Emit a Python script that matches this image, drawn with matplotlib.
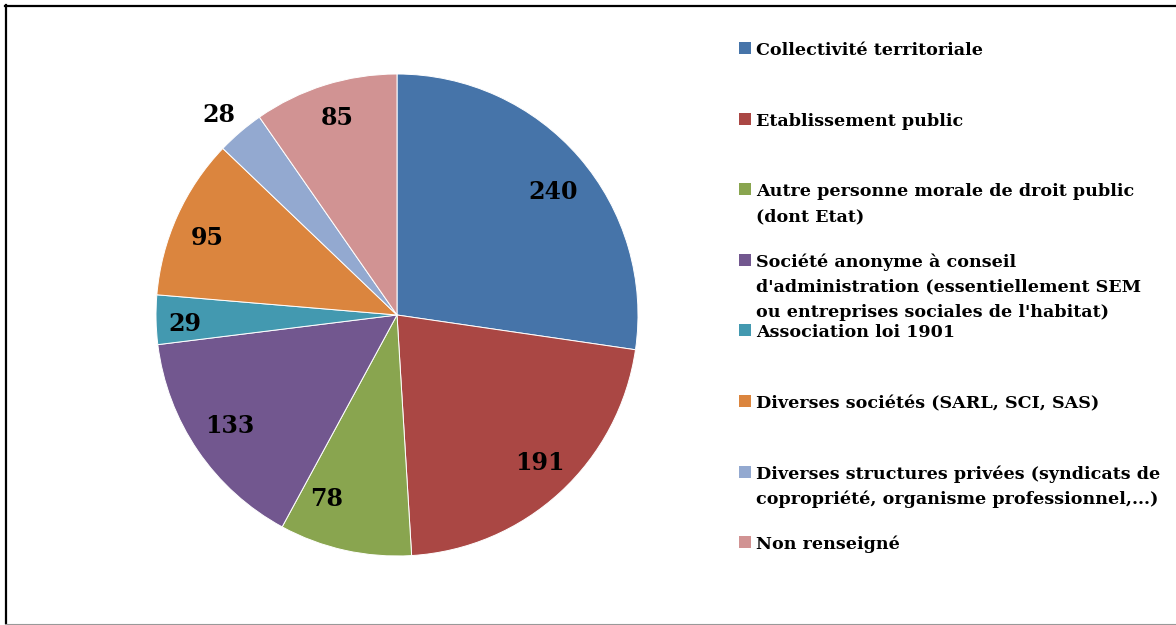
import numpy as np
import matplotlib
matplotlib.use('Agg')
import matplotlib.pyplot as plt
from matplotlib.lines import Line2D
from matplotlib.patches import Rectangle

labels = ['Collectivité territoriale',
          'Etablissement public',
          'Autre personne morale de droit public\n(dont Etat)',
          "Société anonyme à conseil\nd'administration (essentiellement SEM\nou entreprises sociales de l'habitat)",
          'Association loi 1901',
          'Diverses sociétés (SARL, SCI, SAS)',
          'Diverses structures privées (syndicats de\ncopropriété, organisme professionnel,...)',
          'Non renseigné']
values = [240, 191, 78, 133, 29, 95, 28, 85]
colors = ['#4674A9', '#AA4744', '#89A54F', '#72578F', '#4399B0',
          '#DB853E', '#93A9D0', '#D19393']

# where Excel's "best fit" put the value labels (in pie radius units)
label_xy = [(0.647, 0.519), (0.591, -0.609), (-0.290, -0.755), (-0.695, -0.452),
            (-0.880, -0.030), (-0.786, 0.326), (-0.739, 0.838), (-0.249, 0.824)]

W, H = 1176, 625
fig = plt.figure(figsize=(W / 100, H / 100), dpi=100)
fig.patch.set_facecolor('white')

# pie axes, center (397,315) px, radius 241 px
cx, cy, r = 397, 315, 241
ax = fig.add_axes([(cx - r) / W, (H - cy - r) / H, 2 * r / W, 2 * r / H])
wedges, texts = ax.pie(values, colors=colors, startangle=90, counterclock=False,
                       labels=[str(v) for v in values],
                       wedgeprops=dict(edgecolor='white', linewidth=0.7))
fs = 17
half_digit = 0.729 * fs * 100 / 72 / 2 / r
for t, (x, y) in zip(texts, label_xy):
    t.set_fontfamily('DejaVu Serif')
    t.set_fontweight('bold')
    t.set_fontsize(fs)
    t.set_ha('center')
    t.set_va('baseline')
    t.set_position((x, y - half_digit))
ax.set_xlim(-1, 1)
ax.set_ylim(-1, 1)
ax.set_aspect('equal')
ax.axis('off')

# legend, drawn by hand to keep Excel's even spacing
base0, step, lstep = 55, 70.6, 25
for i, (lab, c) in enumerate(zip(labels, colors)):
    b = base0 + step * i
    fig.add_artist(Rectangle((739 / W, 1 - (b - 1) / H), 12 / W, 12 / H,
                             transform=fig.transFigure, facecolor=c, edgecolor='none'))
    for k, line in enumerate(lab.split('\n')):
        fig.text(756 / W, 1 - (b + k * lstep) / H, line, fontsize=12.6,
                 fontfamily='DejaVu Serif', fontweight='bold', va='baseline', ha='left')

# frame around the chart
fig.add_artist(Line2D([5 / W, 1], [1 - 6 / H] * 2, color='black', lw=1.6))
fig.add_artist(Line2D([6 / W] * 2, [1 - 5 / H, 1 - 623 / H], color='black', lw=1.6))
fig.add_artist(Line2D([5 / W, 1], [1 - 623.5 / H] * 2, color='#999999', lw=0.8))

fig.savefig('out.png', dpi=100)
